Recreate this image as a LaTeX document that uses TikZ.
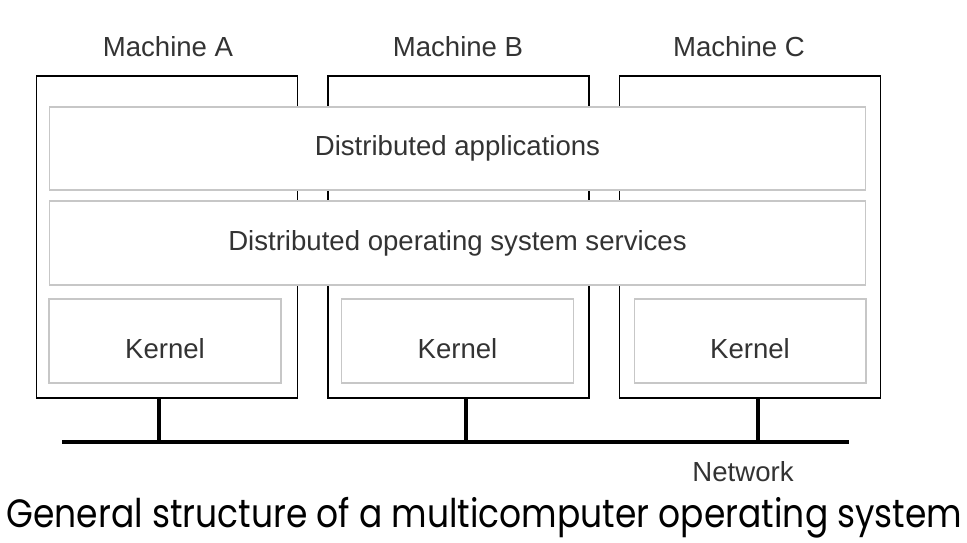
\documentclass[tikz,border=0pt]{standalone}
\usepackage{fontspec}
\setmainfont{Liberation Sans}
\newfontfamily\captionfont{Poppins}
\tikzset{
    machine/.style={rectangle, draw=black, line width=1.1pt, fill=white, minimum width=5.22cm, minimum height=6.44cm, inner sep=0pt},
    layer/.style={rectangle, draw=black!22, line width=0.6pt, fill=white, inner sep=0pt, text=black!80, font=\fontsize{15.7}{18}\selectfont},
    kernel/.style={layer, minimum width=4.64cm, minimum height=1.68cm, text height=0.7cm},
    tag/.style={text=black!80, font=\fontsize{15.7}{18}\selectfont, inner sep=0pt},
    net/.style={line width=1.9pt}
}
\begin{document}
\begin{tikzpicture}[x=0.02cm, y=-0.02cm]
        \useasboundingbox (0,0) rectangle (967,542);
        % Machines
        \node[machine] at (167, 237)    (ma)    {};
        \node[machine] at (458.5, 237)  (mb)    {};
        \node[machine] at (750, 237)    (mc)    {};
        \node[tag] at (168, 47)     (la)    {Machine A};
        \node[tag] at (458, 47)     (lb)    {Machine B};
        \node[tag] at (739, 47)     (lc)    {Machine C};

        % Layers
        \node[layer, minimum width=16.34cm, minimum height=1.66cm] at (457.5, 148.5)  (apps)  {Distributed applications};
        \node[layer, minimum width=16.34cm, minimum height=1.68cm] at (457.5, 243)    (svc)   {Distributed operating system services};
        \node[kernel] at (165, 341)     (ka)    {Kernel};
        \node[kernel] at (457.5, 341)   (kb)    {Kernel};
        \node[kernel] at (750, 341)     (kc)    {Kernel};

        % Network
        \coordinate (nl) at (62, 442);
        \coordinate (nr) at (849, 442);
        \coordinate (ta) at (159, 442);
        \coordinate (tb) at (466, 442);
        \coordinate (tc) at (758, 442);
        \draw[net]  (nl) -- (nr);
        \draw[net]  (ta) -- (ta |- ma.south);
        \draw[net]  (tb) -- (tb |- mb.south);
        \draw[net]  (tc) -- (tc |- mc.south);
        \node[tag] at (743, 472)    (netlbl)    {Network};

        % Caption
        \node[inner sep=0pt, font=\captionfont\fontsize{22.5}{27}\selectfont] at (484.5, 518) (cap) {\resizebox{19.12cm}{\height}{General structure of a multicomputer operating system}};
    \end{tikzpicture}
\end{document}
